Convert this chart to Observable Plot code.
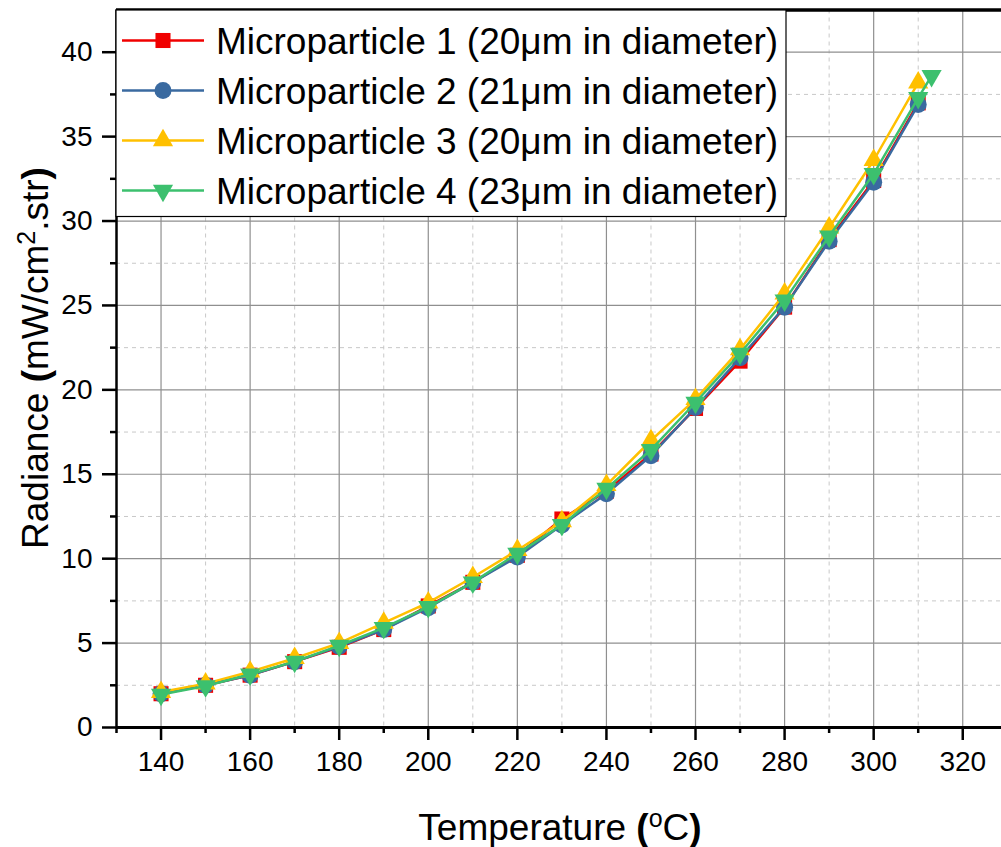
<!DOCTYPE html>
<html><head><meta charset="utf-8">
<script src="https://cdn.jsdelivr.net/npm/d3@7"></script>
<script src="https://cdn.jsdelivr.net/npm/@observablehq/plot@0.6"></script>
<style>body{margin:0;background:#fff}</style>
</head><body><div id="chart"></div>
<script>
// ---- data ----
const temperatures = [140,150,160,170,180,190,200,210,220,230,240,250,260,270,280,290,300,310];
const mp1 = [2.0,2.5,3.1,3.9,4.75,5.8,7.2,8.6,10.2,12.35,14.0,16.2,18.9,21.7,24.9,28.9,32.4,37.0];
const mp2 = [2.0,2.5,3.1,3.9,4.8,5.8,7.1,8.6,10.1,12.0,13.85,16.1,18.95,21.9,24.9,28.8,32.3,36.9];
const mp3 = [2.1,2.6,3.3,4.1,5.0,6.2,7.4,8.9,10.5,12.2,14.35,17.0,19.45,22.4,25.7,29.6,33.6,38.2];
const temperatures4 = [140,150,160,170,180,190,200,210,220,230,240,250,260,270,280,290,300,310,313];
const mp4 = [1.95,2.45,3.15,3.9,4.85,5.9,7.15,8.6,10.3,12.0,14.15,16.45,19.25,22.15,25.3,29.1,32.8,37.3,38.6];
const seriesNames = ["Microparticle 1 (20\u03bcm in diameter)","Microparticle 2 (21\u03bcm in diameter)","Microparticle 3 (20\u03bcm in diameter)","Microparticle 4 (23\u03bcm in diameter)"];
const seriesColors = ["#f00000","#3a6aa0","#ffc000","#3cc06e"];
const xTicksMajor = [140,160,180,200,220,240,260,280,300,320];
const xTicksMinor = [130,150,170,190,210,230,250,270,290,310];
const yTicksMajor = [0,5,10,15,20,25,30,35,40];
const yTicksMinor = [2.5,7.5,12.5,17.5,22.5,27.5,32.5,37.5,42.5];
const xDomain = [130, 328.7];
const yDomain = [0, 42.5];

const triangleDown = {
  draw(context, size) {
    const y = -Math.sqrt(size / (Math.sqrt(3) * 3));
    context.moveTo(0, -2 * y);
    context.lineTo(-Math.sqrt(3) * y, y);
    context.lineTo(Math.sqrt(3) * y, y);
    context.closePath();
  }
};
const seriesSymbols = [d3.symbolSquare, d3.symbolCircle, d3.symbolTriangle, triangleDown];
const seriesR = [8.5, 8.5, 7.5, 7.5];

const seriesData = [
  temperatures.map((t, i) => ({t, v: mp1[i]})),
  temperatures.map((t, i) => ({t, v: mp2[i]})),
  temperatures.map((t, i) => ({t, v: mp3[i]})),
  temperatures4.map((t, i) => ({t, v: mp4[i]}))
];

const font = "'Liberation Sans', Arial, sans-serif";
const seriesMarks = seriesData.flatMap((d, k) => [
  Plot.line(d, {x: "t", y: "v", stroke: seriesColors[k], strokeWidth: 2.5}),
  Plot.dot(d, {x: "t", y: "v", fill: seriesColors[k], stroke: "none", symbol: seriesSymbols[k], r: seriesR[k]})
]);

const chart = Plot.plot({
  width: 1001, height: 847,
  marginLeft: 116, marginRight: 0, marginTop: 9.5, marginBottom: 120,
  style: {fontFamily: font, background: "white", color: "black"},
  x: {domain: xDomain},
  y: {domain: yDomain},
  marks: [
    Plot.gridX(xTicksMinor.slice(1), {stroke: "#c8c8c8", strokeOpacity: 1, strokeWidth: 1, strokeDasharray: "4,4"}),
    Plot.gridY(yTicksMinor, {stroke: "#c8c8c8", strokeOpacity: 1, strokeWidth: 1, strokeDasharray: "4,4"}),
    Plot.gridX(xTicksMajor, {stroke: "#8f8f8f", strokeOpacity: 1, strokeWidth: 1.2}),
    Plot.gridY(yTicksMajor.slice(1), {stroke: "#8f8f8f", strokeOpacity: 1, strokeWidth: 1.2}),
    Plot.axisX(xTicksMajor, {tickSize: 13, tickPadding: 11, fontSize: 28, strokeWidth: 2.5, label: null}),
    Plot.axisX(xTicksMinor, {tickSize: 6, text: null, strokeWidth: 2.5, label: null}),
    Plot.axisY(yTicksMajor, {tickSize: 14, tickPadding: 10, fontSize: 28, strokeWidth: 2.5, label: null}),
    Plot.axisY(yTicksMinor.slice(0, -1), {tickSize: 6, text: null, strokeWidth: 2.5, label: null}),
    Plot.ruleY([yDomain[0]], {stroke: "black", strokeWidth: 3}),
    Plot.ruleX([xDomain[0]], {stroke: "black", strokeWidth: 2.5}),
    Plot.ruleY([yDomain[1]], {stroke: "black", strokeWidth: 3.5}),
    ...seriesMarks
  ]
});
document.getElementById("chart").appendChild(chart);

// ---- titles and legend ----
const svg = d3.select(chart);
const xt = svg.append("text")
  .attr("x", 560).attr("y", 840).attr("text-anchor", "middle")
  .style("font-family", font).style("font-size", "37px").attr("fill", "black");
xt.append("tspan").text("Temperature ");
xt.append("tspan").attr("font-weight", "bold").text("(");
xt.append("tspan").attr("font-size", "25px").attr("dy", -13).text("o");
xt.append("tspan").attr("dy", 13).text("C");
xt.append("tspan").attr("font-weight", "bold").text(")");

const yt = svg.append("text")
  .attr("transform", "translate(48,358) rotate(-90)").attr("text-anchor", "middle")
  .style("font-family", font).style("font-size", "37px").attr("fill", "black");
yt.append("tspan").text("Radiance ");
yt.append("tspan").attr("font-weight", "bold").text("(");
yt.append("tspan").text("mW/cm");
yt.append("tspan").attr("font-size", "25px").attr("dy", -13).text("2");
yt.append("tspan").attr("dy", 13).text(".str");
yt.append("tspan").attr("font-weight", "bold").text(")");

const lg = svg.append("g");
lg.append("rect").attr("x", 116).attr("y", 10).attr("width", 670).attr("height", 206.5)
  .attr("fill", "white").attr("stroke", "black").attr("stroke-width", 1.2);
seriesNames.forEach((name, k) => {
  const cy = 40.5 + 50 * k;
  lg.append("line").attr("x1", 122).attr("x2", 204).attr("y1", cy).attr("y2", cy)
    .attr("stroke", seriesColors[k]).attr("stroke-width", 2.5);
  lg.append("path").attr("transform", `translate(163,${cy})`)
    .attr("d", d3.symbol(seriesSymbols[k], Math.PI * seriesR[k] * seriesR[k])())
    .attr("fill", seriesColors[k]);
  lg.append("text").attr("x", 216).attr("y", cy + 13.3).attr("text-anchor", "start")
    .style("font-family", font).style("font-size", "37px").attr("fill", "black").text(name);
});
</script>
</body></html>
